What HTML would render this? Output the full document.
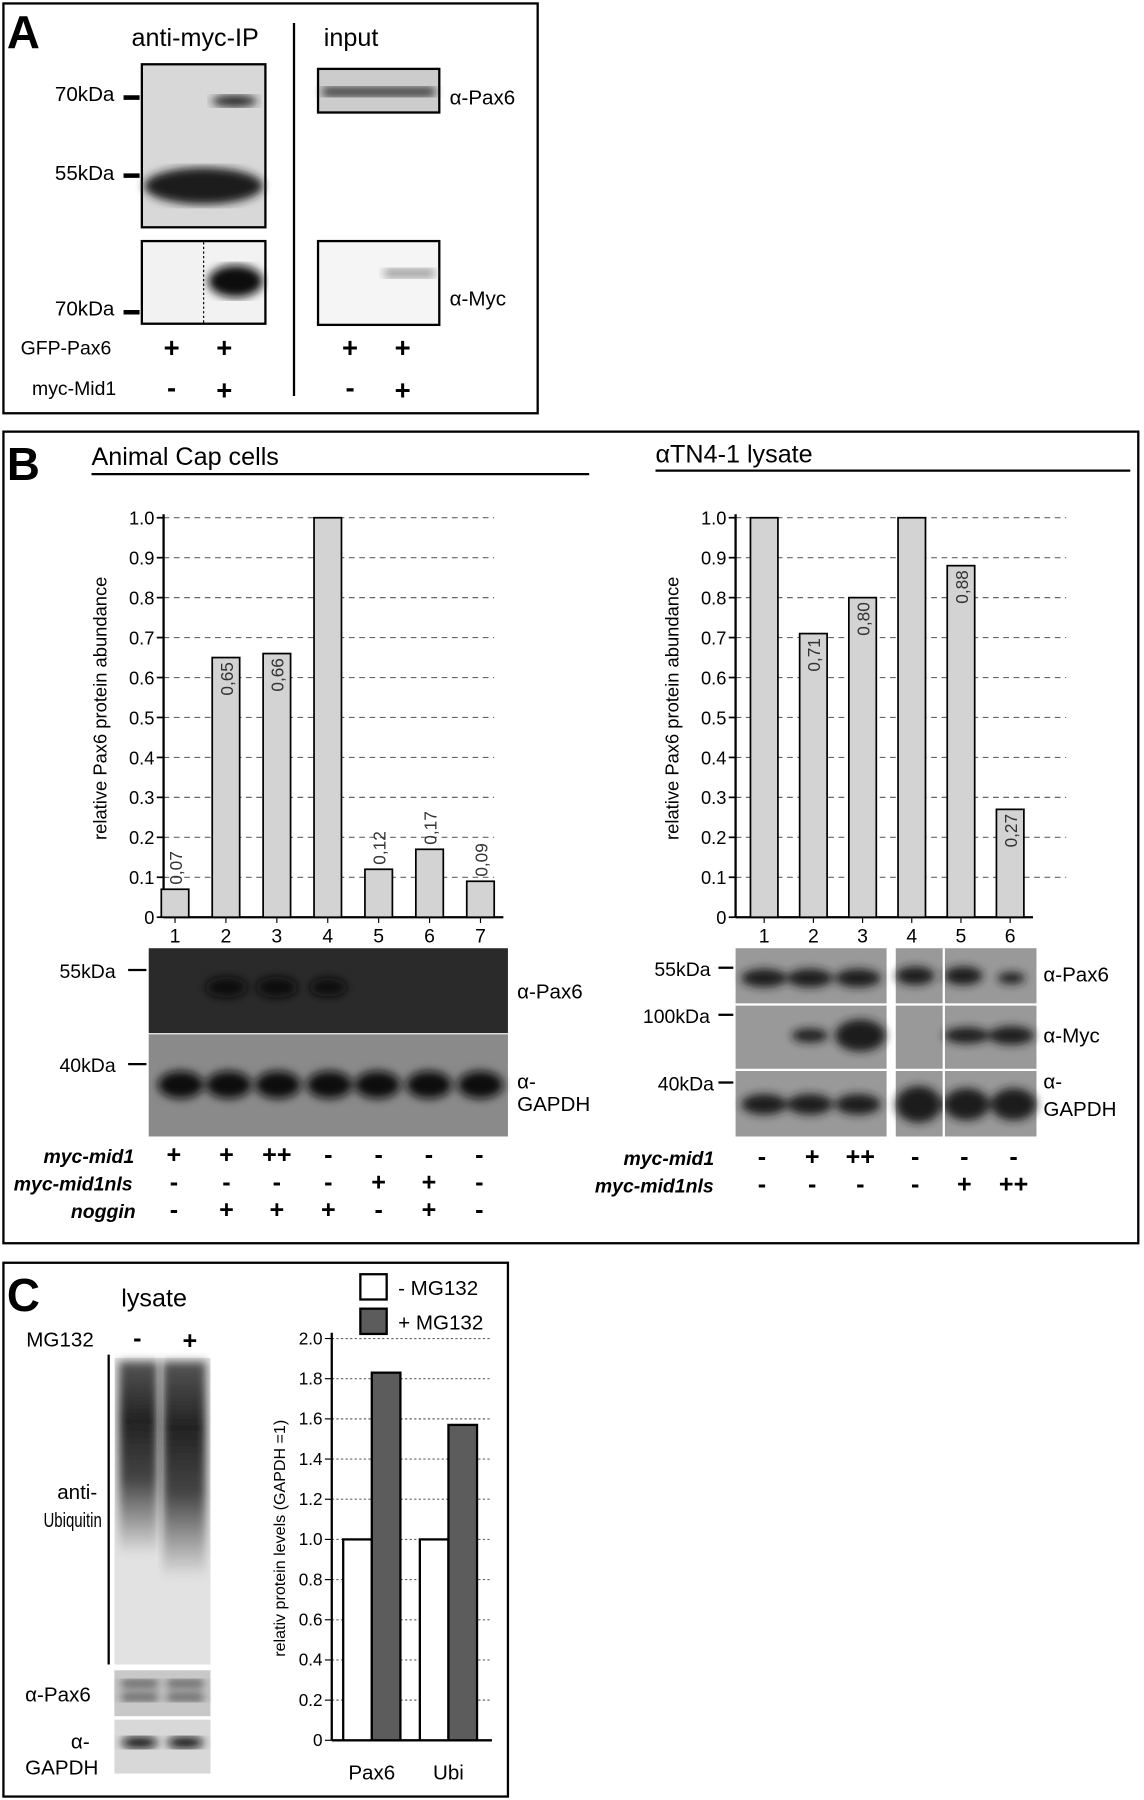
<!DOCTYPE html>
<html><head><meta charset="utf-8"><style>
html,body{margin:0;padding:0;background:#fff}
svg{display:block;font-family:"Liberation Sans",Arial,sans-serif}
</style></head><body>
<svg id="fig" width="1144" height="1800" viewBox="0 0 1000 1568" preserveAspectRatio="none" xmlns="http://www.w3.org/2000/svg">
<defs>
<linearGradient id="smear" x1="0" y1="0" x2="0" y2="1"><stop offset="0" stop-color="#555"/><stop offset="0.3" stop-color="#222"/><stop offset="0.6" stop-color="#444"/><stop offset="1" stop-color="#e4e4e4"/></linearGradient>
<filter id="blur"><feGaussianBlur stdDeviation="4"/></filter>
</defs>
<!-- Panel A -->
<g>
<rect x="3" y="3" width="467" height="357" fill="none" stroke="#000" stroke-width="2"/>
<text x="6" y="42" font-size="40" font-weight="bold">A</text>
<text x="115" y="40" font-size="22">anti-myc-IP</text>
<line x1="257" y1="20" x2="257" y2="345" stroke="#000" stroke-width="2"/>
<text x="283" y="40" font-size="22">input</text>
<rect x="124" y="56" width="108" height="142" fill="#d8d8d8" stroke="#000" stroke-width="2"/>
<ellipse cx="178" cy="162" rx="52" ry="16" fill="#1a1a1a" filter="url(#blur)"/>
<ellipse cx="205" cy="88" rx="20" ry="5" fill="#222" filter="url(#blur)"/>
<rect x="124" y="210" width="108" height="72" fill="#f2f2f2" stroke="#000" stroke-width="2"/>
<ellipse cx="206" cy="245" rx="24" ry="14" fill="#111" filter="url(#blur)"/>
<line x1="178" y1="211" x2="178" y2="281" stroke="#000" stroke-dasharray="2,2"/>
<rect x="278" y="60" width="106" height="38" fill="#ccc" stroke="#000" stroke-width="2"/>
<rect x="282" y="76" width="98" height="8" fill="#333" filter="url(#blur)"/>
<rect x="278" y="210" width="106" height="73" fill="#f5f5f5" stroke="#000" stroke-width="2"/>
<rect x="336" y="234" width="44" height="8" fill="#999" filter="url(#blur)"/>
<text x="48" y="88" font-size="18">70kDa</text><line x1="108" y1="85" x2="122" y2="85" stroke="#000" stroke-width="4"/>
<text x="48" y="157" font-size="18">55kDa</text><line x1="108" y1="153" x2="122" y2="153" stroke="#000" stroke-width="4"/>
<text x="48" y="275" font-size="18">70kDa</text><line x1="108" y1="272" x2="122" y2="272" stroke="#000" stroke-width="4"/>
<text x="393" y="91" font-size="18">α-Pax6</text>
<text x="393" y="266" font-size="18">α-Myc</text>
<text x="18" y="309" font-size="17">GFP-Pax6</text>
<text x="28" y="344" font-size="17">myc-Mid1</text>
<g font-size="24" font-weight="bold" text-anchor="middle">
<text x="150" y="311">+</text><text x="196" y="311">+</text><text x="306" y="311">+</text><text x="352" y="311">+</text>
<text x="150" y="346">-</text><text x="196" y="348">+</text><text x="306" y="346">-</text><text x="352" y="348">+</text>
</g>
</g>
<!-- Panel B -->
<g>
<rect x="3" y="376" width="992" height="707" fill="none" stroke="#000" stroke-width="2"/>
<text x="6" y="418" font-size="40" font-weight="bold">B</text>
<text x="80" y="405" font-size="22">Animal Cap cells</text>
<line x1="80" y1="413" x2="515" y2="413" stroke="#000" stroke-width="2"/>
<text x="573" y="403" font-size="22">αTN4-1 lysate</text>
<line x1="573" y1="410" x2="988" y2="410" stroke="#000" stroke-width="2"/>
<g id="chartL"></g>
<g id="chartR"></g>
<rect x="130" y="826" width="314" height="74" fill="#2a2a2a"/>
<rect x="130" y="901" width="314" height="89" fill="#8a8a8a"/>
<g fill="#0c0c0c" filter="url(#blur)">
<ellipse cx="198" cy="860" rx="18" ry="9"/><ellipse cx="242" cy="860" rx="18" ry="9"/><ellipse cx="287" cy="860" rx="16" ry="8"/>
<ellipse cx="158" cy="945" rx="20" ry="12"/><ellipse cx="200" cy="945" rx="20" ry="12"/><ellipse cx="243" cy="945" rx="20" ry="12"/><ellipse cx="288" cy="945" rx="20" ry="12"/><ellipse cx="330" cy="945" rx="20" ry="12"/><ellipse cx="375" cy="945" rx="20" ry="12"/><ellipse cx="420" cy="945" rx="20" ry="12"/>
</g>
<text x="52" y="852" font-size="17">55kDa</text><line x1="112" y1="845" x2="128" y2="845" stroke="#000" stroke-width="2"/>
<text x="52" y="934" font-size="17">40kDa</text><line x1="112" y1="927" x2="128" y2="927" stroke="#000" stroke-width="2"/>
<text x="452" y="870" font-size="18">α-Pax6</text>
<text x="452" y="948" font-size="18">α-</text><text x="452" y="968" font-size="18">GAPDH</text>
<g font-size="17" font-style="italic" font-weight="bold">
<text x="38" y="1013">myc-mid1</text><text x="12" y="1037">myc-mid1nls</text><text x="62" y="1061">noggin</text>
</g>
<g font-size="22" font-weight="bold" text-anchor="middle">
<text x="152" y="1013">+</text><text x="198" y="1013">+</text><text x="242" y="1013">++</text><text x="287" y="1013">-</text><text x="331" y="1013">-</text><text x="375" y="1013">-</text><text x="419" y="1013">-</text>
<text x="152" y="1037">-</text><text x="198" y="1037">-</text><text x="242" y="1037">-</text><text x="287" y="1037">-</text><text x="331" y="1037">+</text><text x="375" y="1037">+</text><text x="419" y="1037">-</text>
<text x="152" y="1061">-</text><text x="198" y="1061">+</text><text x="242" y="1061">+</text><text x="287" y="1061">+</text><text x="331" y="1061">-</text><text x="375" y="1061">+</text><text x="419" y="1061">-</text>
</g>
<rect x="643" y="826" width="132" height="164" fill="#999"/>
<rect x="783" y="826" width="123" height="164" fill="#999"/>
<g fill="#1a1a1a" filter="url(#blur)">
<ellipse cx="668" cy="852" rx="20" ry="8"/><ellipse cx="708" cy="852" rx="20" ry="8"/><ellipse cx="750" cy="852" rx="20" ry="8"/>
<ellipse cx="800" cy="850" rx="17" ry="8"/><ellipse cx="842" cy="850" rx="17" ry="8"/><ellipse cx="884" cy="852" rx="12" ry="5"/>
<ellipse cx="708" cy="902" rx="16" ry="6"/><ellipse cx="752" cy="902" rx="22" ry="14"/>
<ellipse cx="845" cy="902" rx="20" ry="7"/><ellipse cx="884" cy="902" rx="20" ry="8"/>
<ellipse cx="668" cy="962" rx="20" ry="9"/><ellipse cx="708" cy="962" rx="20" ry="9"/><ellipse cx="750" cy="962" rx="20" ry="9"/>
<ellipse cx="803" cy="962" rx="20" ry="16"/><ellipse cx="845" cy="962" rx="20" ry="14"/><ellipse cx="886" cy="962" rx="20" ry="14"/>
</g>
<line x1="643" y1="875" x2="906" y2="875" stroke="#fff" stroke-width="2"/>
<line x1="643" y1="932" x2="906" y2="932" stroke="#fff" stroke-width="2"/>
<line x1="825" y1="826" x2="825" y2="990" stroke="#fff" stroke-width="2"/>
<text x="572" y="850" font-size="17">55kDa</text><line x1="628" y1="843" x2="641" y2="843" stroke="#000" stroke-width="2"/>
<text x="562" y="891" font-size="17">100kDa</text><line x1="628" y1="884" x2="641" y2="884" stroke="#000" stroke-width="2"/>
<text x="575" y="950" font-size="17">40kDa</text><line x1="628" y1="943" x2="641" y2="943" stroke="#000" stroke-width="2"/>
<text x="912" y="855" font-size="18">α-Pax6</text><text x="912" y="908" font-size="18">α-Myc</text>
<text x="912" y="948" font-size="18">α-</text><text x="912" y="972" font-size="18">GAPDH</text>
<g font-size="17" font-style="italic" font-weight="bold">
<text x="545" y="1015">myc-mid1</text><text x="520" y="1039">myc-mid1nls</text>
</g>
<g font-size="22" font-weight="bold" text-anchor="middle">
<text x="666" y="1015">-</text><text x="710" y="1015">+</text><text x="752" y="1015">++</text><text x="800" y="1015">-</text><text x="843" y="1015">-</text><text x="886" y="1015">-</text>
<text x="666" y="1039">-</text><text x="710" y="1039">-</text><text x="752" y="1039">-</text><text x="800" y="1039">-</text><text x="843" y="1039">+</text><text x="886" y="1039">++</text>
</g>
</g>
<!-- Panel C -->
<g>
<rect x="3" y="1100" width="441" height="465" fill="none" stroke="#000" stroke-width="2"/>
<text x="6" y="1142" font-size="40" font-weight="bold">C</text>
<text x="106" y="1138" font-size="22">lysate</text>
<text x="23" y="1173" font-size="18">MG132</text>
<text x="120" y="1173" font-size="22" font-weight="bold" text-anchor="middle">-</text>
<text x="166" y="1175" font-size="22" font-weight="bold" text-anchor="middle">+</text>
<line x1="95" y1="1180" x2="95" y2="1450" stroke="#000" stroke-width="2"/>
<rect x="100" y="1183" width="84" height="267" fill="#e2e2e2"/>
<rect x="104" y="1186" width="34" height="170" fill="url(#smear)" filter="url(#blur)"/>
<rect x="142" y="1186" width="38" height="190" fill="url(#smear)" filter="url(#blur)"/>
<text x="50" y="1306" font-size="18">anti-</text><text x="38" y="1330" font-size="18" textLength="51" lengthAdjust="spacingAndGlyphs">Ubiquitin</text>
<rect x="100" y="1455" width="84" height="40" fill="#c8c8c8"/>
<g fill="#333" filter="url(#blur)"><rect x="106" y="1464" width="32" height="5"/><rect x="146" y="1464" width="32" height="5"/><rect x="106" y="1476" width="32" height="5"/><rect x="146" y="1476" width="32" height="5"/></g>
<rect x="100" y="1498" width="84" height="47" fill="#d8d8d8"/>
<g fill="#111" filter="url(#blur)"><ellipse cx="122" cy="1518" rx="16" ry="5"/><ellipse cx="162" cy="1518" rx="16" ry="5"/></g>
<text x="22" y="1482" font-size="18">α-Pax6</text>
<text x="62" y="1523" font-size="18">α-</text><text x="22" y="1546" font-size="18">GAPDH</text>
<g id="chartC"></g>
</g>
<script>
var ns="http://www.w3.org/2000/svg";
function mk(p,t,a,txt){var e=document.createElementNS(ns,t);for(var k in a)e.setAttribute(k,a[k]);if(txt!==undefined)e.textContent=txt;p.appendChild(e);return e;}
var catsL=["1","2","3","4","5","6","7"];
var valsL=[0.07,0.65,0.66,1.0,0.12,0.17,0.09];
var labelsL=["0,07","0,65","0,66","","0,12","0,17","0,09"];
var catsR=["1","2","3","4","5","6"];
var valsR=[1.0,0.71,0.80,1.0,0.88,0.27];
var labelsR=["","0,71","0,80","","0,88","0,27"];
var ticksB=[0,0.1,0.2,0.3,0.4,0.5,0.6,0.7,0.8,0.9,1.0];
var tickLabelsB=["0","0.1","0.2","0.3","0.4","0.5","0.6","0.7","0.8","0.9","1.0"];
var catsC=["Pax6","Ubi"];
var valsMinus=[1.0,1.0];
var valsPlus=[1.83,1.57];
var ticksC=[0,0.2,0.4,0.6,0.8,1.0,1.2,1.4,1.6,1.8,2.0];
var tickLabelsC=["0","0.2","0.4","0.6","0.8","1.0","1.2","1.4","1.6","1.8","2.0"];

function barChart(g,cats,vals,labels,ax,xEnd,firstC,step){
  var y0=799,y1=451;
  function y(v){return y0-(y0-y1)*v;}
  function x(i){return firstC+i*step;}
  ticksB.forEach(function(t,i){
    if(t>0){var gl=mk(g,"line",{x1:ax,y1:y(t),x2:xEnd,y2:y(t),stroke:"#666","stroke-dasharray":"5,4"});
    
    }
    mk(g,"line",{x1:ax-6,y1:y(t),x2:ax,y2:y(t),stroke:"#000","stroke-width":1.5});
    var tl=mk(g,"text",{x:ax-8,y:y(t)+6,"font-size":16,"text-anchor":"end"},tickLabelsB[i]);
    
    
  });
  mk(g,"line",{x1:ax,y1:y1-3,x2:ax,y2:y0,stroke:"#000","stroke-width":2});
  mk(g,"line",{x1:ax,y1:y0,x2:x(cats.length-1)+20,y2:y0,stroke:"#000","stroke-width":2});
  var tt=mk(g,"text",{transform:"translate("+(ax-50)+",617) rotate(-90)","font-size":16,"text-anchor":"middle"},"relative Pax6 protein abundance");
  
  
  cats.forEach(function(c,i){
    var cx=x(i),v=vals[i];
    var b=mk(g,"rect",{x:cx-12,y:y(v),width:24,height:y0-y(v),fill:"#d3d3d3",stroke:"#000","stroke-width":1.5});
    
    
    mk(g,"line",{x1:cx,y1:y0,x2:cx,y2:y0+5,stroke:"#000"});
    var xl=mk(g,"text",{x:cx,y:y0+22,"font-size":17,"text-anchor":"middle"},c);
    
    
    if(labels[i]){
      var inside=v>0.25,ly=inside?y(v)+4:y(v)-4;
      var vl=mk(g,"text",{transform:"translate("+(cx+6)+","+ly+") rotate(-90)","font-size":15,fill:"#333","text-anchor":inside?"end":"start"},labels[i]);
      
      
    }
  });
}
barChart(document.getElementById("chartL"),catsL,valsL,labelsL,143,432,153,44.5);
barChart(document.getElementById("chartR"),catsR,valsR,labelsR,643,932,668,43);

(function(){
  var g=document.getElementById("chartC");
  var ax=290,y0=1516,y1=1166;
  function y(v){return y0-(y0-y1)*v/2;}
  function gx(i){return 325+i*67;}
  ticksC.forEach(function(t,i){
    if(t>0){var gl=mk(g,"line",{x1:ax,y1:y(t),x2:430,y2:y(t),stroke:"#666","stroke-dasharray":"2,2"});
    
    }
    mk(g,"line",{x1:ax-6,y1:y(t),x2:ax,y2:y(t),stroke:"#000"});
    var tl=mk(g,"text",{x:ax-8,y:y(t)+5,"font-size":15,"text-anchor":"end"},tickLabelsC[i]);
    
    
  });
  mk(g,"line",{x1:ax,y1:y1-5,x2:ax,y2:y0,stroke:"#000","stroke-width":2});
  mk(g,"line",{x1:ax,y1:y0,x2:430,y2:y0,stroke:"#000","stroke-width":2});
  var tt=mk(g,"text",{transform:"translate(249,1340) rotate(-90)","font-size":14,"text-anchor":"middle"},"relativ protein levels (GAPDH =1)");
  
  
  catsC.forEach(function(c,i){
    var cx=gx(i);
    var b1=mk(g,"rect",{x:cx-25,y:y(valsMinus[i]),width:25,height:y0-y(valsMinus[i]),fill:"#fff",stroke:"#000","stroke-width":2});
    
    
    var b2=mk(g,"rect",{x:cx,y:y(valsPlus[i]),width:25,height:y0-y(valsPlus[i]),fill:"#5c5c5c",stroke:"#000","stroke-width":2});
    
    
    var xl=mk(g,"text",{x:cx,y:1550,"font-size":18,"text-anchor":"middle"},c);
    
    
  });
  var l1=mk(g,"rect",{x:315,y:1110,width:23,height:22,fill:"#fff",stroke:"#000","stroke-width":2});
  
  
  var t1=mk(g,"text",{x:348,y:1128,"font-size":18},"- MG132");
  
  
  var l2=mk(g,"rect",{x:315,y:1140,width:23,height:22,fill:"#5c5c5c",stroke:"#000","stroke-width":2});
  
  
  var t2=mk(g,"text",{x:348,y:1158,"font-size":18},"+ MG132");
  
  
})();
</script>
</svg>
</body></html>
